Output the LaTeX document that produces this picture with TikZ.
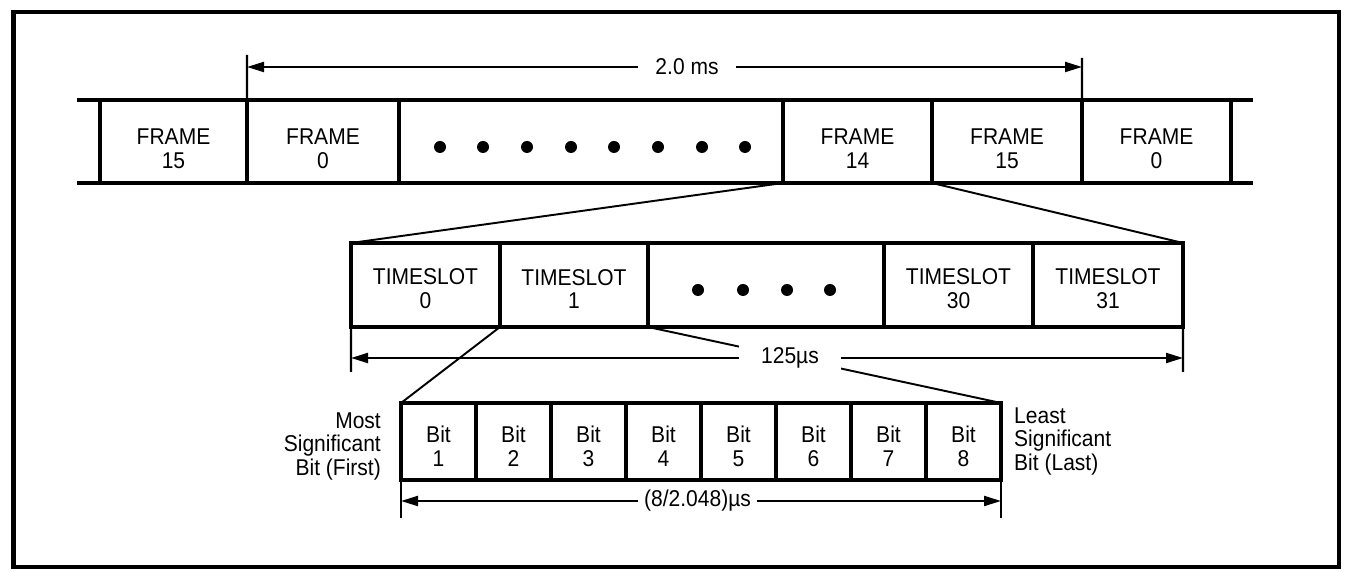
\documentclass[tikz,border=0pt]{standalone}
\usepackage{fontspec}
\setmainfont{Liberation Sans}[FakeStretch=0.92]
\usetikzlibrary{arrows.meta, positioning}

\tikzset{
  cell/.style={draw, line width=2.2pt, inner sep=0pt, outer sep=0pt},
  celltext/.style={align=center, yshift=#1},
  framecell/.style={cell, minimum height=1.66cm},
  slotcell/.style={cell, minimum height=1.68cm},
  bitcell/.style={cell, minimum width=1.5cm, minimum height=1.54cm},
  fanline/.style={line width=1.1pt},
  dimtick/.style={line width=1.3pt},
  dimarrow/.style={line width=1.2pt, -{Triangle[length=3.4mm, width=2mm]}},
}

\begin{document}
\begin{tikzpicture}[font=\fontsize{13}{13.6}\selectfont]
  \useasboundingbox (0,0) rectangle (26.96,11.44);
  % Outer border
  \draw[line width=2.3pt] (0.27,0.1) rectangle (26.78,11.2);

  % --- Frame row ---
  \node[framecell, minimum width=2.94cm, label={[celltext=-0.14cm]center:FRAME\\15}] (f15a) at (3.47,8.61) {};
  \node[framecell, minimum width=3.04cm, label={[celltext=-0.14cm]center:FRAME\\0}] (f0a) at (6.46,8.61) {};
  \node[framecell, minimum width=7.68cm] (fdots) at (11.82,8.61) {};
  \node[framecell, minimum width=2.98cm, label={[celltext=-0.14cm]center:FRAME\\14}] (f14) at (17.15,8.61) {};
  \node[framecell, minimum width=3.0cm, label={[celltext=-0.14cm]center:FRAME\\15}] (f15b) at (20.14,8.61) {};
  \node[framecell, minimum width=2.98cm, label={[celltext=-0.14cm]center:FRAME\\0}] (f0b) at (23.13,8.61) {};
  % open row ends
  \draw[line width=2.2pt] (f15a.north west) -- ++(-0.46,0);
  \draw[line width=2.2pt] (f15a.south west) -- ++(-0.46,0);
  \draw[line width=2.2pt] (f0b.north east) -- ++(0.44,0);
  \draw[line width=2.2pt] (f0b.south east) -- ++(0.44,0);
  \foreach \x in {8.8,9.66,10.54,11.42,12.28,13.16,14.04,14.9}
    \fill (\x,8.5) circle (0.12);

  % 2.0 ms
  \coordinate (msL) at (4.94,10.34);
  \coordinate (msR) at (21.64,10.28);
  \draw[dimtick] (f0a.north west) -- (msL);
  \draw[dimtick] (f0b.north west) -- (msR);
  \node[inner xsep=0.34cm] (ms) at (13.74,10.1) {2.0 ms};
  \draw[dimarrow] (ms.west) -- (msL |- ms);
  \draw[dimarrow] (ms.east) -- (msR |- ms);

  % --- Timeslot row ---
  \node[slotcell, minimum width=2.98cm, label={[celltext=-0.08cm]center:TIMESLOT\\0}] (ts0) at (8.51,5.74) {};
  \node[slotcell, minimum width=2.96cm, label={[celltext=-0.08cm]center:TIMESLOT\\1}] (ts1) at (11.48,5.74) {};
  \node[slotcell, minimum width=4.72cm] (tsdots) at (15.32,5.74) {};
  \node[slotcell, minimum width=2.98cm, label={[celltext=-0.08cm]center:TIMESLOT\\30}] (ts30) at (19.17,5.74) {};
  \node[slotcell, minimum width=3.0cm, label={[celltext=-0.08cm]center:TIMESLOT\\31}] (ts31) at (22.16,5.74) {};
  \foreach \x in {13.96,14.86,15.74,16.6}
    \fill (\x,5.64) circle (0.12);
  \draw[fanline] (f14.south west) -- (ts0.north west);
  \draw[fanline] (f14.south east) -- (ts31.north east);

  % --- Bit row ---
  \foreach \i in {1,...,8}
    \node[bitcell, label={[celltext=-0.1cm]center:Bit\\\i}] (b\i) at ({8.77+(\i-1)*1.5},2.61) {};
  \node[left=0.28cm of b1, yshift=-0.1cm, align=right] (msb) {Most\\Significant\\Bit (First)};
  \node[right=0.14cm of b8, align=left] (lsb) {Least\\Significant\\Bit (Last)};
  \draw[fanline] (ts1.south west) -- (b1.north west);
  \draw[fanline] (ts1.south east) -- (b8.north east);

  % 125us
  \coordinate (usL) at (7.02,4.0);
  \coordinate (usR) at (23.66,4.0);
  \draw[dimtick] (ts0.south west) -- (usL);
  \draw[dimtick] (ts31.south east) -- (usR);
  \node[fill=white, inner xsep=0.44cm] (us) at (15.8,4.28) {125µs};
  \draw[dimarrow] (us.west) -- (usL |- us);
  \draw[dimarrow] (us.east) -- (usR |- us);

  % bit time
  \coordinate (btL) at (8.02,1.08);
  \coordinate (btR) at (20.02,1.08);
  \draw[dimtick] (b1.south west) -- (btL);
  \draw[dimtick] (b8.south east) -- (btR);
  \node[inner xsep=0.12cm] (bt) at (13.95,1.42) {(8/2.048)µs};
  \draw[dimarrow] (bt.west) -- (btL |- bt);
  \draw[dimarrow] (bt.east) -- (btR |- bt);
\end{tikzpicture}
\end{document}
